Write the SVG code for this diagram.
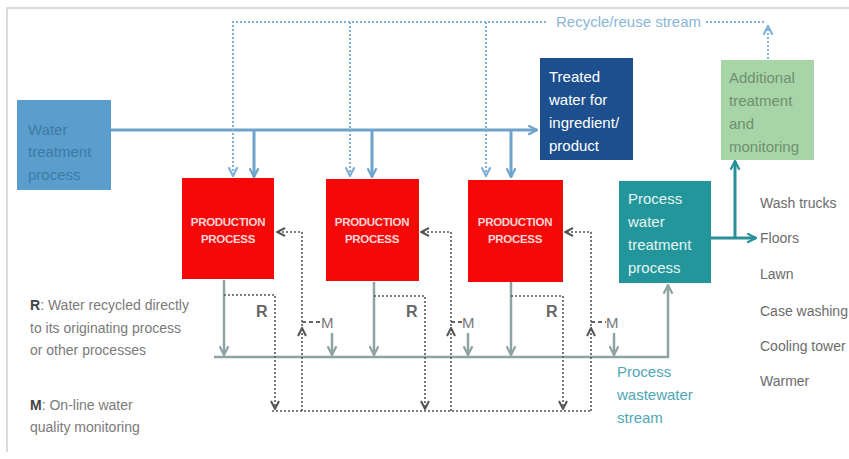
<svg xmlns="http://www.w3.org/2000/svg" width="849" height="459" viewBox="0 0 849 459">
<defs>
<style>
text{font-family:"Liberation Sans",Arial,sans-serif}
.wt{fill:#3f7aa6;font-size:15px}
.tw{fill:#ffffff;font-size:15px}
.ad{fill:#6f8f6f;font-size:15px}
.pw{fill:#e6f4f4;font-size:15px}
.pp{fill:#ffd6d6;font-size:11.5px;font-weight:bold;text-anchor:middle;letter-spacing:-0.3px}
.lst{fill:#6b6b6b;font-size:14px}
.leg{fill:#7a7a7a;font-size:14px}
.legb{fill:#444;font-weight:bold}
.rm{fill:#666;font-size:16px;font-weight:bold}
.ms{fill:#777;font-size:15px}
.ws{fill:#4fa6b4;font-size:15px}
.rec{fill:#8ab6d6;font-size:15px}
.blue{fill:none;stroke:#6ea3cc;stroke-width:3}
.ltdot{fill:none;stroke:#7fb0d6;stroke-width:2;stroke-dasharray:2 2}
.gray{fill:none;stroke:#8fa3a3;stroke-width:2.5}
.dkdot{fill:none;stroke:#555;stroke-width:1.6;stroke-dasharray:2 2}
.teal{fill:none;stroke:#2a9098;stroke-width:3}
</style>
<marker id="aBlue" viewBox="0 0 10 10" refX="9" refY="5" markerWidth="11" markerHeight="11" markerUnits="userSpaceOnUse" orient="auto"><path d="M1,1 L9,5 L1,9" fill="none" stroke="#6ea3cc" stroke-width="2"/></marker>
<marker id="aLt" viewBox="0 0 10 10" refX="9" refY="5" markerWidth="11" markerHeight="11" markerUnits="userSpaceOnUse" orient="auto"><path d="M1,1 L9,5 L1,9" fill="none" stroke="#7fb0d6" stroke-width="2"/></marker>
<marker id="aGray" viewBox="0 0 10 10" refX="9" refY="5" markerWidth="11" markerHeight="11" markerUnits="userSpaceOnUse" orient="auto"><path d="M1,1 L9,5 L1,9" fill="none" stroke="#8fa3a3" stroke-width="2"/></marker>
<marker id="aDk" viewBox="0 0 10 10" refX="9" refY="5" markerWidth="10" markerHeight="10" markerUnits="userSpaceOnUse" orient="auto"><path d="M1,1 L9,5 L1,9" fill="none" stroke="#555" stroke-width="2"/></marker>
<marker id="aTeal" viewBox="0 0 10 10" refX="9" refY="5" markerWidth="11" markerHeight="11" markerUnits="userSpaceOnUse" orient="auto"><path d="M1,1 L9,5 L1,9" fill="none" stroke="#2a9098" stroke-width="2"/></marker>
</defs>
<rect width="849" height="459" fill="#ffffff"/>
<path d="M849,8 H7 V452" fill="none" stroke="#cfcfcf" stroke-width="1.5"/>

<g id="connectors">
<path class="blue" d="M111,130 H537" marker-end="url(#aBlue)"/>
<path class="blue" d="M254,130 V177" marker-end="url(#aBlue)"/>
<path class="blue" d="M372,130 V177" marker-end="url(#aBlue)"/>
<path class="blue" d="M511,130 V177" marker-end="url(#aBlue)"/>
<path class="ltdot" d="M546,22 H233 V176" marker-end="url(#aLt)"/>
<path class="ltdot" d="M350,22 V176" marker-end="url(#aLt)"/>
<path class="ltdot" d="M486,22 V176" marker-end="url(#aLt)"/>
<path class="ltdot" d="M706,22 H765"/>
<path class="ltdot" d="M768,59 V26" marker-end="url(#aLt)"/>
<path class="gray" d="M224,280 V355" marker-end="url(#aGray)"/>
<path class="gray" d="M374,282 V355" marker-end="url(#aGray)"/>
<path class="gray" d="M511,282 V355" marker-end="url(#aGray)"/>
<path class="gray" d="M214,357 H668 V285" marker-end="url(#aGray)"/>
<path class="gray" d="M332,333 V355" marker-end="url(#aGray)"/>
<path class="gray" d="M468,333 V355" marker-end="url(#aGray)"/>
<path class="gray" d="M614,333 V355" marker-end="url(#aGray)"/>
<path class="dkdot" d="M224,295 H275 V409" marker-end="url(#aDk)"/>
<path class="dkdot" d="M374,296 H425 V409" marker-end="url(#aDk)"/>
<path class="dkdot" d="M511,296 H563 V409" marker-end="url(#aDk)"/>
<path class="dkdot" d="M272,411 H591"/>
<path class="dkdot" d="M302,411 V328" marker-end="url(#aDk)"/>
<path class="dkdot" d="M302,330 V232 H277" marker-end="url(#aDk)"/>
<path class="dkdot" d="M451,411 V328" marker-end="url(#aDk)"/>
<path class="dkdot" d="M451,330 V232 H421" marker-end="url(#aDk)"/>
<path class="dkdot" d="M591,411 V328" marker-end="url(#aDk)"/>
<path class="dkdot" d="M591,330 V232 H565" marker-end="url(#aDk)"/>
<path d="M302,322 H320 M451,322 H462 M591,322 H606" fill="none" stroke="#666" stroke-width="2" stroke-dasharray="4 3"/>
<path class="teal" d="M711,238 H756" marker-end="url(#aTeal)"/>
<path class="teal" d="M735,238 V161" marker-end="url(#aTeal)"/>
</g>

<g id="water-treatment">
<rect x="17" y="100" width="94" height="90" fill="#5b9ecd"/>
<text class="wt" x="28" y="135">Water</text>
<text class="wt" x="28" y="157">treatment</text>
<text class="wt" x="28" y="180">process</text>
</g>

<g id="treated-water">
<rect x="540" y="58" width="93" height="102" fill="#1d4f8e"/>
<text class="tw" x="549" y="82">Treated</text>
<text class="tw" x="549" y="105">water for</text>
<text class="tw" x="549" y="128">ingredient/</text>
<text class="tw" x="549" y="151">product</text>
</g>

<g id="additional-treatment">
<rect x="721" y="60" width="93" height="100" fill="#a7d5a8"/>
<text class="ad" x="729" y="83">Additional</text>
<text class="ad" x="729" y="106">treatment</text>
<text class="ad" x="729" y="129">and</text>
<text class="ad" x="729" y="152">monitoring</text>
</g>

<g id="production-1">
<rect x="182" y="178" width="92" height="101" fill="#f40808"/>
<text class="pp" x="228" y="226">PRODUCTION</text>
<text class="pp" x="228" y="243">PROCESS</text>
</g>
<g id="production-2">
<rect x="326" y="179" width="93" height="102" fill="#f40808"/>
<text class="pp" x="372" y="226">PRODUCTION</text>
<text class="pp" x="372" y="243">PROCESS</text>
</g>
<g id="production-3">
<rect x="468" y="180" width="95" height="102" fill="#f40808"/>
<text class="pp" x="515" y="226">PRODUCTION</text>
<text class="pp" x="515" y="243">PROCESS</text>
</g>

<g id="process-water-treatment">
<rect x="619" y="181" width="92" height="102" fill="#23969c"/>
<text class="pw" x="628" y="204">Process</text>
<text class="pw" x="628" y="227">water</text>
<text class="pw" x="628" y="250">treatment</text>
<text class="pw" x="628" y="273">process</text>
</g>

<g id="labels">
<text class="rec" x="556" y="27">Recycle/reuse stream</text>
<text class="rm" x="256" y="317">R</text>
<text class="rm" x="406" y="317">R</text>
<text class="rm" x="546" y="317">R</text>
<text class="ms" x="321" y="328">M</text>
<text class="ms" x="462" y="328">M</text>
<text class="ms" x="606" y="328">M</text>
<text class="ws" x="617" y="377">Process</text>
<text class="ws" x="617" y="400">wastewater</text>
<text class="ws" x="617" y="423">stream</text>
<text class="lst" x="760" y="208">Wash trucks</text>
<text class="lst" x="760" y="243">Floors</text>
<text class="lst" x="760" y="279">Lawn</text>
<text class="lst" x="760" y="316">Case washing</text>
<text class="lst" x="760" y="351">Cooling tower</text>
<text class="lst" x="760" y="386">Warmer</text>
<text class="leg" x="30" y="310"><tspan class="legb">R</tspan>: Water recycled directly</text>
<text class="leg" x="30" y="333">to its originating process</text>
<text class="leg" x="30" y="355">or other processes</text>
<text class="leg" x="30" y="410"><tspan class="legb">M</tspan>: On-line water</text>
<text class="leg" x="30" y="432">quality monitoring</text>
</g>
</svg>
